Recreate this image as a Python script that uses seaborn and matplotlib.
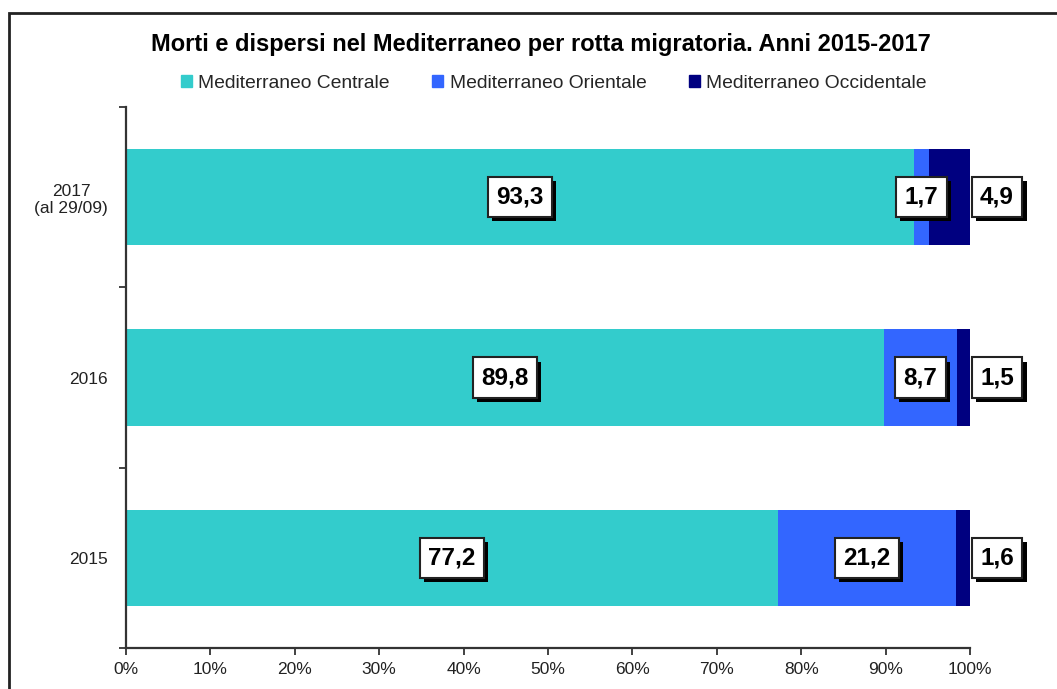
# coding=utf-8
import pandas as pd
import numpy as np
import matplotlib.pyplot as plt
import matplotlib.patheffects as pe
from matplotlib.patches import Patch, Rectangle
import seaborn as sns

# dati (% sul totale morti e dispersi)
anni = ["2017\n(al 29/09)", "2016", "2015"]
centrale = [93.3, 89.8, 77.2]
orientale = [1.7, 8.7, 21.2]
occidentale = [4.9, 1.5, 1.6]

serie = ["Mediterraneo Centrale", "Mediterraneo Orientale", "Mediterraneo Occidentale"]
colori = ["#33CCCC", "#3366FF", "#000080"]
tick_pct = [0, 10, 20, 30, 40, 50, 60, 70, 80, 90, 100]

sns.set_theme(style="white")
plt.rcParams['font.family'] = ['Liberation Sans', 'DejaVu Sans']

df = pd.DataFrame({"anno": anni, "c": centrale, "o": orientale, "w": occidentale})
tot = df[["c", "o", "w"]].sum(axis=1)
# barre al 100% (come grafico in pila percentuale)
df["s1"] = df["c"] / tot * 100
df["s2"] = (df["c"] + df["o"]) / tot * 100
df["s3"] = (df["c"] + df["o"] + df["w"]) / tot * 100

fig = plt.figure(figsize=(10.57, 6.89), dpi=100)
ax = fig.add_axes([126 / 1057, 1 - 648 / 689, (970 - 126) / 1057, (648 - 107) / 689])

# barre sovrapposte dal totale verso il basso
for col, colore in zip(["s3", "s2", "s1"], colori[::-1]):
    sns.barplot(data=df, y="anno", x=col, color=colore, saturation=1,
                width=0.535, orient="h", ax=ax, order=anni, linewidth=0, edgecolor="none")

ax.set_xlim(0, 100)
ax.set_ylim(2.5, -0.5)
ax.set_xlabel("")
ax.set_ylabel("")
ax.set_xticks(tick_pct)
ax.set_xticklabels([f"{t}%" for t in tick_pct], fontsize=12.5, color="#222222")
ax.set_yticks(range(len(anni)))
ax.set_yticklabels(anni, fontsize=12.5, color="#222222", multialignment="center")
ax.set_yticks([-0.5, 0.5, 1.5, 2.5], minor=True)
ax.tick_params(axis="y", which="major", length=0, pad=13)
ax.tick_params(axis="y", which="minor", left=True, length=5, width=1.3, color="#333333", direction="out")
ax.tick_params(axis="x", bottom=True, length=5, width=1.3, color="#333333", direction="out", pad=5)
for s in ["top", "right"]:
    ax.spines[s].set_visible(False)
for s in ["left", "bottom"]:
    ax.spines[s].set_color("#333333")
    ax.spines[s].set_linewidth(1.6)


def etichetta(x, y, v):
    t = ax.text(x, y, f"{v:.1f}".replace(".", ","), ha="center", va="center",
                fontsize=17.5, fontweight="bold", color="black",
                bbox=dict(boxstyle="square,pad=0.35", fc="white", ec="#222222", lw=1.5),
                clip_on=False, zorder=5)
    t.get_bbox_patch().set_path_effects([
        pe.SimplePatchShadow(offset=(3, -3), shadow_rgbFace="black", alpha=1),
        pe.Normal()])


for i in range(len(anni)):
    etichetta(df["s1"][i] / 2, i, centrale[i])
    etichetta((df["s1"][i] + df["s2"][i]) / 2, i, orientale[i])
    etichetta(103.2, i, occidentale[i])

fig.text(541 / 1057, 1 - 45 / 689, "Morti e dispersi nel Mediterraneo per rotta migratoria. Anni 2015-2017",
         ha="center", va="center", fontsize=17, fontweight="bold", color="black")

handles = [Patch(facecolor=c, edgecolor=c) for c in colori]
fig.legend(handles, serie, loc="center", bbox_to_anchor=(0.524, 1 - 83 / 689), ncol=3,
           frameon=False, fontsize=13.9, handlelength=0.55, handleheight=0.6,
           handletextpad=0.35, columnspacing=2.2)

# cornice esterna
fig.patches.append(Rectangle((9 / 1057, -0.1), 1.2, 1 - 13 / 689 + 0.1, transform=fig.transFigure,
                             fill=False, ec="#222222", lw=2))

fig.savefig("out.png", dpi=100)
plt.close(fig)
